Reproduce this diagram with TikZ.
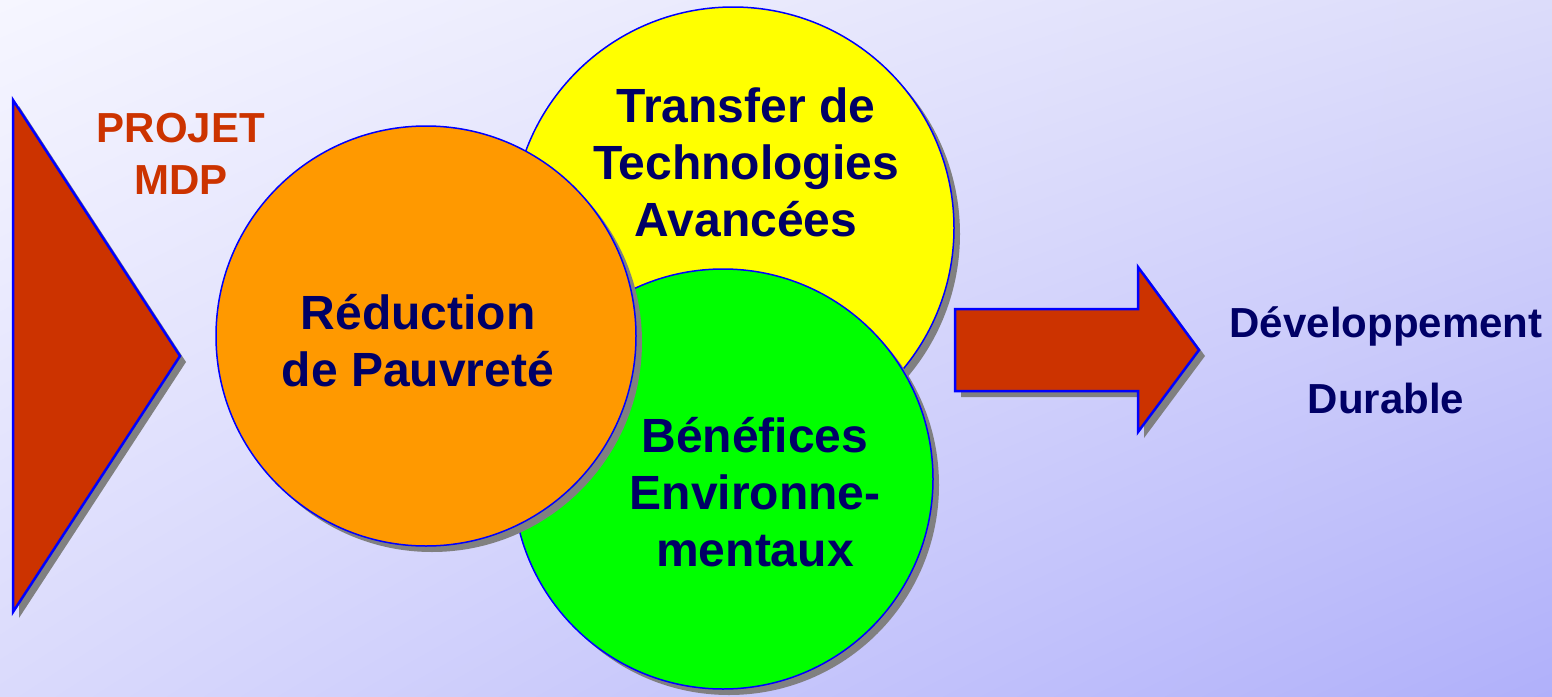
\documentclass[tikz,border=0pt]{standalone}
\usepackage{fontspec}
\setmainfont{Liberation Sans}
\usetikzlibrary{shadows,shadings}
\definecolor{navy}{RGB}{0,0,102}
\definecolor{brick}{RGB}{204,51,0}
\definecolor{orangec}{RGB}{255,153,0}
\definecolor{yellowc}{RGB}{255,255,0}
\definecolor{greenc}{RGB}{0,255,0}
\definecolor{shadowc}{RGB}{128,128,128}
\definecolor{bgtl}{RGB}{246,246,255}
\definecolor{bgtr}{RGB}{220,220,250}
\definecolor{bgbl}{RGB}{218,218,252}
\definecolor{bgbr}{RGB}{176,176,250}
\tikzset{
  shad/.style={drop shadow={shadow xshift=6pt,shadow yshift=-6pt,fill=shadowc,opacity=1}},
  bubble/.style={circle,draw=blue,line width=1.5pt,inner sep=0pt,shad},
  bubbletext/.style={font=\bfseries\fontsize{48}{57}\selectfont,text=navy,align=center,inner sep=0pt},
  shapeline/.style={draw=blue,line width=2.5pt,line join=miter,fill=brick,shad},
}
\begin{document}
\begin{tikzpicture}[x=1pt,y=-1pt]
\shade[upper left=bgtl,upper right=bgtr,lower left=bgbl,lower right=bgbr] (0,0) rectangle (1552,696);
\useasboundingbox (0,0) rectangle (1552,696);
% left triangle
\coordinate (t1) at (13,100);
\coordinate (t2) at (180,356);
\coordinate (t3) at (13,612);
\path[shapeline] (t1) -- (t2) -- (t3) -- cycle;
\node[font=\bfseries\fontsize{42}{52}\selectfont,text=brick,align=center,inner sep=0pt] (projet) at (181,154) {PROJET\\MDP};
% circles
\node[bubble,fill=yellowc,minimum size=442pt] (tech) at (733,228) {};
\node[bubble,fill=greenc,minimum size=420pt] (env) at (723,479) {};
\node[bubble,fill=orangec,minimum size=420pt] (pauv) at (426,336) {};
\node[bubbletext] (ttech) at (746,162) {Transfer de\\Technologies\\Avancées};
\node[bubbletext] (tenv) at (755,492) {Bénéfices\\Environne-\\mentaux};
\node[bubbletext] (tpauv) at (418,341) {Réduction\\de Pauvreté};
% right arrow
\coordinate (a1) at (955,309);
\coordinate (a2) at (1138,309);
\coordinate (a3) at (1138,267);
\coordinate (a4) at (1199,350);
\coordinate (a5) at (1138,432);
\coordinate (a6) at (1138,391);
\coordinate (a7) at (955,391);
\path[shapeline] (a1) -- (a2) -- (a3) -- (a4) -- (a5) -- (a6) -- (a7) -- cycle;
\node[font=\bfseries\fontsize{42}{76}\selectfont,text=navy,align=center,inner sep=0pt] (dev) at (1386,360) {Développement\\Durable};
\end{tikzpicture}
\end{document}
